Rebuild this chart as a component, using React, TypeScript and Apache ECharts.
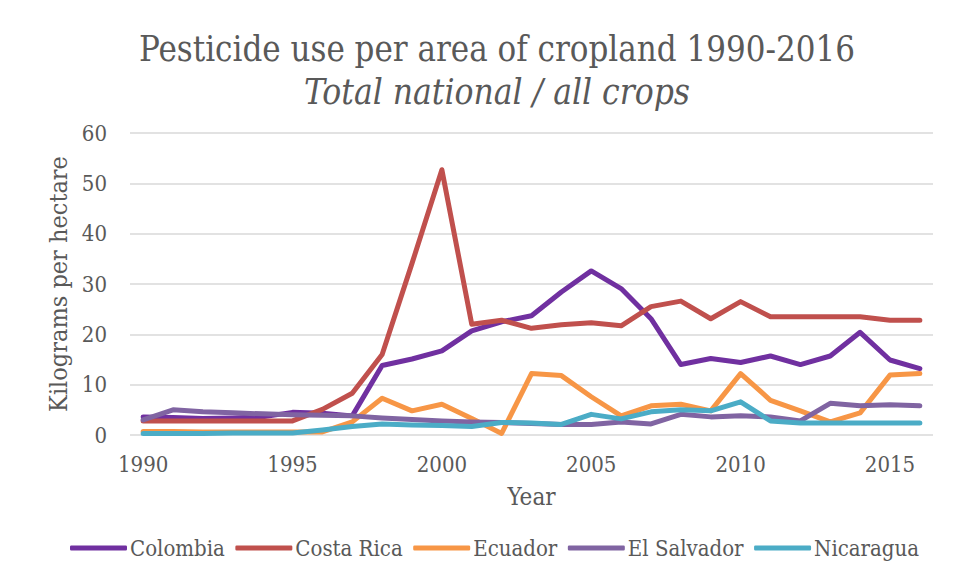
import React, { useEffect, useRef } from "react";
import * as echarts from "echarts";

const years = [1990,1991,1992,1993,1994,1995,1996,1997,1998,1999,2000,2001,2002,2003,2004,2005,2006,2007,2008,2009,2010,2011,2012,2013,2014,2015,2016];
const xTickLabels = [1990, 1995, 2000, 2005, 2010, 2015];
const colombia = [3.6,3.5,3.3,3.4,3.6,4.5,4.3,3.8,13.8,15.1,16.7,20.7,22.5,23.7,28.4,32.6,29.1,23.1,14.0,15.2,14.4,15.7,14.0,15.7,20.4,14.9,13.2];
const costaRica = [2.8,2.8,2.8,2.8,2.8,2.8,5.1,8.3,16.0,34.1,52.7,22.0,22.8,21.2,21.9,22.3,21.7,25.5,26.6,23.1,26.5,23.5,23.5,23.5,23.5,22.8,22.8];
const ecuador = [0.7,0.7,0.6,0.6,0.6,0.6,0.6,2.6,7.3,4.8,6.1,3.3,0.3,12.2,11.8,7.6,3.8,5.8,6.1,4.8,12.2,6.9,4.8,2.6,4.4,11.9,12.2];
const elSalvador = [3.0,5.0,4.6,4.4,4.2,4.0,3.9,3.8,3.4,3.1,2.8,2.6,2.5,2.3,2.1,2.1,2.6,2.2,4.1,3.6,3.8,3.6,2.8,6.3,5.8,6.0,5.8];
const nicaragua = [0.3,0.3,0.3,0.4,0.4,0.4,1.0,1.7,2.2,2.0,1.9,1.7,2.5,2.4,2.1,4.1,3.2,4.6,5.0,4.8,6.6,2.8,2.4,2.4,2.4,2.4,2.4];
const yTicks = [0, 10, 20, 30, 40, 50, 60];

const seriesDefs = [
  { name: "Colombia", values: colombia, color: "#7030A0" },
  { name: "Costa Rica", values: costaRica, color: "#C0504D" },
  { name: "Ecuador", values: ecuador, color: "#F79646" },
  { name: "El Salvador", values: elSalvador, color: "#8064A2" },
  { name: "Nicaragua", values: nicaragua, color: "#4BACC6" },
];

const FONT = "'DejaVu Serif Condensed', 'Liberation Serif'";
const TEXT = "#595959";

export default function App() {
  const ref = useRef<HTMLDivElement>(null);
  useEffect(() => {
    if (!ref.current) return;
    const chart = echarts.init(ref.current, null, { renderer: "svg" });
    chart.setOption({
      animation: false,
      backgroundColor: "#ffffff",
      title: {
        text: "Pesticide use per area of cropland 1990-2016",
        subtext: "Total national / all crops",
        left: 492,
        textAlign: "center",
        top: 26,
        itemGap: 8,
        textStyle: { fontFamily: FONT, fontSize: 34.5, fontWeight: "normal", color: TEXT },
        subtextStyle: { fontFamily: FONT, fontSize: 35, fontStyle: "italic", color: TEXT },
      },
      legend: {
        top: 532,
        left: 65,
        icon: "roundRect",
        itemWidth: 57,
        itemHeight: 5,
        itemGap: 10.5,
        textStyle: { fontFamily: FONT, fontSize: 22, color: TEXT, padding: [0, 0, 0, -2] },
        data: seriesDefs.map((s) => s.name),
      },
      grid: { left: 130, right: 23, top: 133, bottom: 142 },
      xAxis: {
        type: "value",
        min: 1989.56,
        max: 2016.44,
        name: "Year",
        nameLocation: "middle",
        nameGap: 50,
        nameTextStyle: { fontFamily: FONT, fontSize: 24, color: TEXT },
        axisLine: { show: false },
        axisTick: { show: false },
        splitLine: { show: false },
        axisLabel: {
          customValues: xTickLabels,
          fontFamily: FONT,
          fontSize: 22,
          color: TEXT,
          margin: 18,
          formatter: (v: number) => String(v),
        },
      },
      yAxis: {
        type: "value",
        min: 0,
        max: 60,
        interval: 10,
        name: "Kilograms per hectare",
        nameLocation: "middle",
        nameGap: 54,
        nameTextStyle: { fontFamily: FONT, fontSize: 25, color: TEXT },
        axisLine: { show: false },
        axisTick: { show: false },
        splitLine: { lineStyle: { color: "#d9d9d9", width: 1.5 } },
        axisLabel: {
          fontFamily: FONT,
          fontSize: 22,
          color: TEXT,
          margin: 23,
          customValues: yTicks,
        },
      },
      series: seriesDefs.map((s) => ({
        name: s.name,
        type: "line",
        data: years.map((y, i) => [y, s.values[i]]),
        showSymbol: false,
        symbol: "none",
        color: s.color,
        lineStyle: { width: 5, color: s.color, cap: "round", join: "round" },
        itemStyle: { color: s.color },
      })),
    });
    return () => chart.dispose();
  }, []);
  return <div ref={ref} style={{ position: "absolute", left: 0, top: 0, width: 956, height: 577 }} />;
}
